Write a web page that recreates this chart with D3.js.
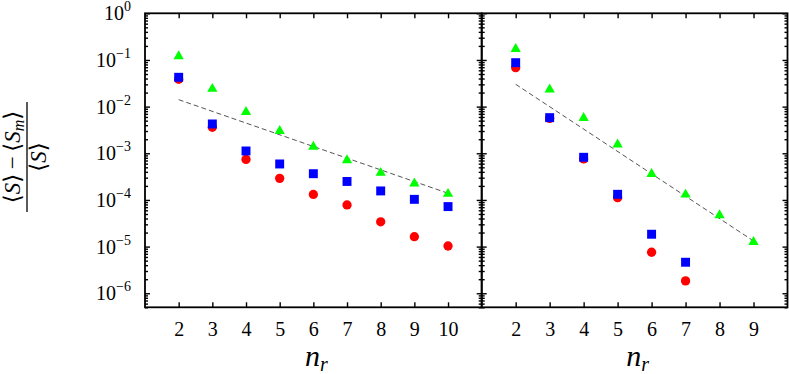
<!DOCTYPE html>
<html>
<head>
<meta charset="utf-8">
<script src="https://cdn.jsdelivr.net/npm/d3@7"></script>
<style>
  body { margin: 0; background: #fff; }
</style>
</head>
<body>
<script>
// ---- data ----
const nLeft = [2, 3, 4, 5, 6, 7, 8, 9, 10];
const leftCircle = [0.0385, 0.0036, 0.00074, 0.00029, 0.000131, 7.8e-5, 3.4e-5, 1.63e-5, 1.03e-5];
const leftSquare = [0.0425, 0.00425, 0.00112, 0.00059, 0.000365, 0.000249, 0.000156, 0.000103, 7.2e-5];
const leftTriangle = [0.12, 0.024, 0.0077, 0.003, 0.00138, 0.00071, 0.00038, 0.000225, 0.000135];
const leftFitN = [2, 10];
const leftFit = [0.0141, 1.39e-4];

const nRight = [2, 3, 4, 5, 6, 7, 8, 9];
const rightCircle = [0.0683, 0.0056, 0.000755, 0.000112, 7.57e-6, 1.84e-6];
const rightSquare = [0.0874, 0.0058, 0.00082, 0.000132, 1.84e-5, 4.62e-6];
const rightTriangle = [0.172, 0.0232, 0.0057, 0.00154, 0.00036, 0.00013, 4.7e-5, 1.26e-5];
const rightFitN = [2, 9];
const rightFit = [0.0301, 1.32e-5];

const yExponents = [0, -1, -2, -3, -4, -5, -6];

const width = 789;
const height = 374;
const plotTop = 13.3, plotBottom = 307.3;
const serif = "'Liberation Serif', 'Times New Roman', Tinos, 'DejaVu Serif', serif";

const svg = d3.select("body").append("svg")
    .attr("width", width)
    .attr("height", height);

const y = d3.scaleLog().domain([5e-7, 1]).range([plotBottom, plotTop]);

const yMajor = yExponents.map(e => Math.pow(10, e));
const yMinor = [];
for (let e = -7; e < 0; e++) {
    for (let m = 2; m <= 9; m++) {
        const v = m * Math.pow(10, e);
        if (v >= 5e-7 && v <= 1) yMinor.push(v);
    }
}

function drawPanel(cfg) {
    const x = d3.scaleLinear().domain(cfg.domain).range(cfg.range);
    const g = svg.append("g");
    const [x0, x1] = cfg.range;

    // ticks on all four sides, pointing inward
    const axes = [
        [d3.axisLeft(y).tickValues(yMajor).tickSize(-5), `translate(${x0},0)`],
        [d3.axisLeft(y).tickValues(yMinor).tickSize(-3), `translate(${x0},0)`],
        [d3.axisRight(y).tickValues(yMajor).tickSize(-5), `translate(${x1},0)`],
        [d3.axisRight(y).tickValues(yMinor).tickSize(-3), `translate(${x1},0)`],
        [d3.axisTop(x).tickValues(cfg.xTicks).tickSize(-5), `translate(0,${plotTop})`]
    ];
    axes.forEach(([ax, tr]) => {
        const a = g.append("g").attr("transform", tr).call(ax.tickFormat(""));
        a.select(".domain").remove();
        a.selectAll("line").attr("stroke", "#000").attr("stroke-width", 1.4);
    });

    const xb = g.append("g")
        .attr("transform", `translate(0,${plotBottom})`)
        .call(d3.axisBottom(x).tickValues(cfg.xTicks).tickSize(-5).tickPadding(15).tickFormat(d3.format("d")));
    xb.select(".domain").remove();
    xb.attr("font-family", null).attr("font-size", null);
    xb.selectAll("line").attr("stroke", "#000").attr("stroke-width", 1.4);
    xb.selectAll("text")
        .style("font-size", "20px")
        .style("font-family", serif);

    // frame
    g.append("rect")
        .attr("x", x0).attr("y", plotTop)
        .attr("width", x1 - x0).attr("height", plotBottom - plotTop)
        .attr("fill", "none").attr("stroke", "#000").attr("stroke-width", 1.8);

    // fit line
    const line = d3.line().x(d => x(d[0])).y(d => y(d[1]));
    g.append("path")
        .attr("d", line(d3.zip(cfg.fitN, cfg.fit)))
        .attr("fill", "none")
        .attr("stroke", "#555")
        .attr("stroke-width", 1)
        .attr("stroke-dasharray", "5,3");

    // markers: circles, then squares, then triangles
    const series = [
        [cfg.circle, d3.symbolCircle, 68, "#ff0000"],
        [cfg.square, d3.symbolSquare, 80, "#0000ff"],
        [cfg.triangle, d3.symbolTriangle, 46, "#00ff00"]
    ];
    series.forEach(([vals, type, size, color]) => {
        g.append("g").selectAll("path")
            .data(vals.map((v, i) => [cfg.n[i], v]))
            .join("path")
            .attr("transform", d => `translate(${x(d[0])},${y(d[1])})`)
            .attr("d", d3.symbol().type(type).size(size))
            .attr("fill", color);
    });

    // x label n_r
    const cx = (x0 + x1) / 2 + 3;
    const lab = g.append("text")
        .attr("x", cx).attr("y", 366)
        .attr("text-anchor", "middle")
        .style("font-family", serif)
        .style("font-size", "30px")
        .style("font-style", "italic");
    lab.append("tspan").text("n");
    lab.append("tspan").style("font-size", "20px").attr("dy", 5).text("r");
}

drawPanel({
    domain: [1, 11], range: [145, 481.7], xTicks: nLeft,
    n: nLeft, circle: leftCircle, square: leftSquare, triangle: leftTriangle,
    fitN: leftFitN, fit: leftFit
});
drawPanel({
    domain: [1, 10], range: [481.7, 787.5], xTicks: nRight,
    n: nRight, circle: rightCircle, square: rightSquare, triangle: rightTriangle,
    fitN: rightFitN, fit: rightFit
});

// y tick labels 10^k
const yl = svg.append("g").style("font-family", serif);
yExponents.forEach(e => {
    const t = yl.append("text")
        .attr("x", 131)
        .attr("y", y(Math.pow(10, e)) + 7)
        .attr("text-anchor", "end")
        .style("font-size", "20px");
    t.append("tspan").text("10");
    t.append("tspan").style("font-size", "14px").attr("dy", -9)
        .text(e === 0 ? "0" : "\u2212" + (-e));
});

// y label: (<S> - <S_m>) / <S>
const ylab = svg.append("g")
    .attr("transform", "translate(27,157) rotate(-90)")
    .style("font-family", serif);
const num = ylab.append("text")
    .attr("x", 0).attr("y", -7)
    .attr("text-anchor", "middle")
    .style("font-size", "23px");
num.append("tspan").text("\u27E8");
num.append("tspan").style("font-style", "italic").text("S");
num.append("tspan").text("\u27E9\u2009\u2212\u2009\u27E8");
num.append("tspan").style("font-style", "italic").text("S");
num.append("tspan").style("font-style", "italic").style("font-size", "16px").attr("dy", 4).text("m");
num.append("tspan").attr("dy", -4).text("\u27E9");

ylab.append("line")
    .attr("x1", -55).attr("x2", 55)
    .attr("y1", 0).attr("y2", 0)
    .attr("stroke", "#000").attr("stroke-width", 1.3);

const den = ylab.append("text")
    .attr("x", 0).attr("y", 19)
    .attr("text-anchor", "middle")
    .style("font-size", "23px");
den.append("tspan").text("\u27E8");
den.append("tspan").style("font-style", "italic").text("S");
den.append("tspan").text("\u27E9");
</script>
</body>
</html>
